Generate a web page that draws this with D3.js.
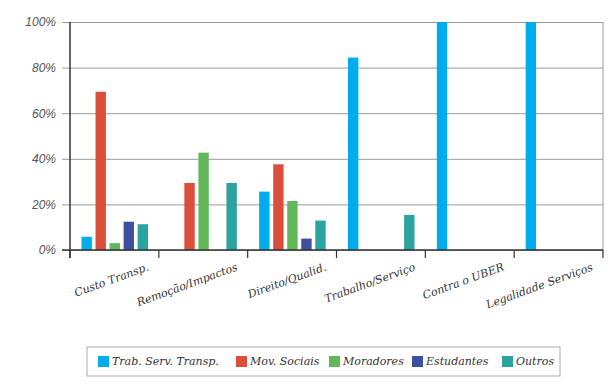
<!DOCTYPE html>
<html>
<head>
<meta charset="utf-8">
<script src="https://cdn.jsdelivr.net/npm/d3@7"></script>
<style>
  body { margin: 0; background: #fff; }
  svg { display: block; }
</style>
</head>
<body>
<svg id="chart" width="615" height="391"></svg>
<script>
const categories = ['Custo Transp.', 'Remoção/Impactos', 'Direito/Qualid.', 'Trabalho/Serviço', 'Contra o UBER', 'Legalidade Serviços'];
const seriesNames = ['Trab. Serv. Transp.', 'Mov. Sociais', 'Moradores', 'Estudantes', 'Outros'];
const seriesColors = ['#00acec', '#dc4e3c', '#62b75a', '#3d4f9f', '#2ba39e'];
const trabServ = [5.8, 0, 25.6, 84.4, 100, 100];
const movSociais = [69.4, 29.4, 37.6, 0, 0, 0];
const moradores = [3, 42.7, 21.5, 0, 0, 0];
const estudantes = [12.4, 0, 5, 0, 0, 0];
const outros = [11.3, 29.4, 12.9, 15.4, 0, 0];
const yTicks = [0, 20, 40, 60, 80, 100];

const seriesValues = [trabServ, movSociais, moradores, estudantes, outros];

const margin = { top: 22, right: 12, bottom: 141, left: 70 };
const totalWidth = 615;
const totalHeight = 391;
const width = totalWidth - margin.left - margin.right;
const height = totalHeight - margin.top - margin.bottom;

const svg = d3.select('#chart');
const labelFont = '"DejaVu Serif", serif';

const xScale = d3.scaleBand(categories, [0, width]).padding(0);
const seriesScale = d3.scaleBand(seriesNames, [11.5, 78]).paddingInner(0.26);
const yScale = d3.scaleLinear([0, 100], [height, 0]);

const plot = svg.append('g').attr('transform', `translate(${margin.left}, ${margin.top})`);

/* grid lines + left ticks */
const leftAxis = d3.axisLeft(yScale)
  .tickValues(yTicks)
  .tickSize(-width)
  .tickPadding(14)
  .tickFormat(d => d + '%');
plot.append('g')
  .call(leftAxis)
  .call(g => g.select('.domain').remove())
  .call(g => g.selectAll('.tick line')
    .attr('x1', -8)
    .attr('stroke', '#9a9a9a')
    .attr('stroke-width', 1))
  .call(g => g.selectAll('.tick text')
    .attr('fill', '#555')
    .attr('font-family', '"Liberation Sans", Arial, sans-serif')
    .attr('font-style', 'italic')
    .attr('font-size', 12));

/* right border */
plot.append('line')
  .attr('x1', width).attr('x2', width)
  .attr('y1', 0).attr('y2', height)
  .attr('stroke', '#9a9a9a');

/* bars */
plot.append('g')
  .selectAll('g')
  .data(categories)
  .join('g')
  .attr('transform', d => `translate(${xScale(d)}, 0)`)
  .each(function (cat, ci) {
    const rows = seriesNames
      .map((name, si) => ({ name, si, v: seriesValues[si][ci] }))
      .filter(r => r.v > 0);
    d3.select(this).selectAll('rect')
      .data(rows)
      .join('rect')
      .attr('x', r => seriesScale(r.name))
      .attr('width', seriesScale.bandwidth())
      .attr('y', r => yScale(r.v))
      .attr('height', r => yScale(0) - yScale(r.v))
      .attr('fill', r => seriesColors[r.si]);
  });

/* bottom axis: category boundary ticks */
const boundaries = categories.map(c => xScale(c)).concat([width]);
const bottom = plot.append('g').attr('transform', `translate(0, ${height})`);
bottom.append('line')
  .attr('x1', -8).attr('x2', width)
  .attr('stroke', '#333').attr('stroke-width', 1.5);
bottom.selectAll('.tick-x')
  .data(boundaries)
  .join('line')
  .attr('class', 'tick-x')
  .attr('x1', d => d).attr('x2', d => d)
  .attr('y1', 0).attr('y2', 8)
  .attr('stroke', '#333').attr('stroke-width', 1.2);

/* left axis line */
plot.append('line')
  .attr('x1', 0).attr('x2', 0)
  .attr('y1', 0).attr('y2', height + 8)
  .attr('stroke', '#333').attr('stroke-width', 1.5);

/* category labels - end of text hangs right of the band centre */
bottom.selectAll('.cat-label')
  .data(categories)
  .join('text')
  .attr('class', 'cat-label')
  .attr('transform', d => `translate(${xScale(d) + xScale.bandwidth() / 2 + 35}, 20) rotate(-20)`)
  .attr('text-anchor', 'end')
  .attr('fill', '#333')
  .attr('font-family', labelFont)
  .attr('font-style', 'italic')
  .attr('font-size', 11)
  .text(d => d);

/* legend */
const legend = svg.append('g').attr('transform', 'translate(87, 347)');
legend.append('rect')
  .attr('width', 473).attr('height', 29)
  .attr('fill', '#fff')
  .attr('stroke', '#aaa');
const legendX = [11, 149, 242, 325, 415];
const items = legend.selectAll('.item')
  .data(seriesNames)
  .join('g')
  .attr('class', 'item')
  .attr('transform', (d, i) => `translate(${legendX[i]}, 14.5)`);
items.append('rect')
  .attr('x', 0).attr('y', -5.5)
  .attr('width', 11).attr('height', 11)
  .attr('fill', (d, i) => seriesColors[i]);
items.append('text')
  .attr('x', 14)
  .attr('dy', '0.35em')
  .attr('fill', '#333')
  .attr('font-family', labelFont)
  .attr('font-style', 'italic')
  .attr('font-size', 11)
  .text(d => d);
</script>
</body>
</html>
